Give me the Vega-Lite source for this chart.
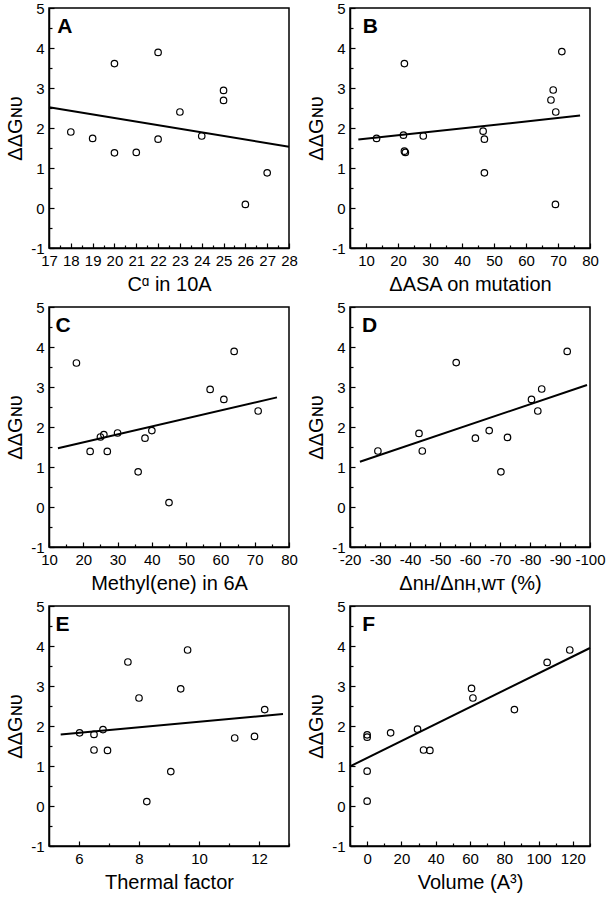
{
  "$schema": "https://vega.github.io/schema/vega-lite/v6.json",
  "background": "white",
  "padding": {"left": 4, "top": 0, "right": 3, "bottom": 5},
  "config": {
    "font": "Liberation Sans",
    "view": {"stroke": "black", "strokeWidth": 1.5},
    "axis": {
      "domainColor": "black", "domainWidth": 1.5, "tickColor": "black", "tickWidth": 1.2,
      "labelColor": "black", "titleColor": "black", "labelFontSize": 15, "titleFontSize": 20,
      "titleFontWeight": "normal", "grid": false, "labelFont": "Liberation Sans", "titleFont": "Liberation Sans",
      "labelOverlap": false, "labelFlush": false, "labelBound": false, "labelPadding": 10
    },
    "axisX": {"titlePadding": 4},
    "axisY": {"titlePadding": 5}
  },
  "datasets": {
    "pts": [
      {"panel": "A", "x": 18, "y": 1.90}, {"panel": "A", "x": 19, "y": 1.74}, {"panel": "A", "x": 20, "y": 3.61},
      {"panel": "A", "x": 20, "y": 1.38}, {"panel": "A", "x": 21, "y": 1.39}, {"panel": "A", "x": 22, "y": 3.89},
      {"panel": "A", "x": 22, "y": 1.72}, {"panel": "A", "x": 23, "y": 2.40}, {"panel": "A", "x": 24, "y": 1.80},
      {"panel": "A", "x": 25, "y": 2.94}, {"panel": "A", "x": 25, "y": 2.69}, {"panel": "A", "x": 26, "y": 0.09},
      {"panel": "A", "x": 27, "y": 0.88},
      {"panel": "B", "x": 13.3, "y": 1.74}, {"panel": "B", "x": 22.0, "y": 3.61}, {"panel": "B", "x": 21.7, "y": 1.82},
      {"panel": "B", "x": 22.0, "y": 1.42}, {"panel": "B", "x": 22.3, "y": 1.39}, {"panel": "B", "x": 27.9, "y": 1.80},
      {"panel": "B", "x": 46.6, "y": 1.92}, {"panel": "B", "x": 47.0, "y": 1.72}, {"panel": "B", "x": 47.0, "y": 0.88},
      {"panel": "B", "x": 67.8, "y": 2.70}, {"panel": "B", "x": 68.5, "y": 2.95}, {"panel": "B", "x": 69.3, "y": 2.40},
      {"panel": "B", "x": 69.2, "y": 0.09}, {"panel": "B", "x": 71.2, "y": 3.91},
      {"panel": "C", "x": 18, "y": 3.60}, {"panel": "C", "x": 22, "y": 1.39}, {"panel": "C", "x": 25, "y": 1.75},
      {"panel": "C", "x": 26, "y": 1.81}, {"panel": "C", "x": 27, "y": 1.39}, {"panel": "C", "x": 30, "y": 1.85},
      {"panel": "C", "x": 36, "y": 0.88}, {"panel": "C", "x": 38, "y": 1.72}, {"panel": "C", "x": 40, "y": 1.91},
      {"panel": "C", "x": 45, "y": 0.11}, {"panel": "C", "x": 57, "y": 2.94}, {"panel": "C", "x": 61, "y": 2.69},
      {"panel": "C", "x": 64, "y": 3.89}, {"panel": "C", "x": 71, "y": 2.40},
      {"panel": "D", "x": -29.3, "y": 1.40}, {"panel": "D", "x": -43.0, "y": 1.84}, {"panel": "D", "x": -44.1, "y": 1.40},
      {"panel": "D", "x": -55.4, "y": 3.61}, {"panel": "D", "x": -61.8, "y": 1.72}, {"panel": "D", "x": -66.4, "y": 1.91},
      {"panel": "D", "x": -72.5, "y": 1.74}, {"panel": "D", "x": -70.3, "y": 0.88}, {"panel": "D", "x": -80.5, "y": 2.69},
      {"panel": "D", "x": -82.6, "y": 2.40}, {"panel": "D", "x": -83.9, "y": 2.95}, {"panel": "D", "x": -92.4, "y": 3.89},
      {"panel": "E", "x": 6.02, "y": 1.83}, {"panel": "E", "x": 6.5, "y": 1.79}, {"panel": "E", "x": 6.8, "y": 1.91},
      {"panel": "E", "x": 6.5, "y": 1.40}, {"panel": "E", "x": 6.95, "y": 1.39}, {"panel": "E", "x": 7.63, "y": 3.60},
      {"panel": "E", "x": 8.0, "y": 2.70}, {"panel": "E", "x": 8.26, "y": 0.11}, {"panel": "E", "x": 9.06, "y": 0.86},
      {"panel": "E", "x": 9.39, "y": 2.93}, {"panel": "E", "x": 9.62, "y": 3.90}, {"panel": "E", "x": 11.19, "y": 1.70},
      {"panel": "E", "x": 11.85, "y": 1.74}, {"panel": "E", "x": 12.19, "y": 2.41},
      {"panel": "F", "x": 0, "y": 1.78}, {"panel": "F", "x": 0, "y": 1.72}, {"panel": "F", "x": 0, "y": 0.87},
      {"panel": "F", "x": 0, "y": 0.12}, {"panel": "F", "x": 13.7, "y": 1.83}, {"panel": "F", "x": 29.4, "y": 1.92},
      {"panel": "F", "x": 32.9, "y": 1.40}, {"panel": "F", "x": 36.6, "y": 1.39}, {"panel": "F", "x": 60.9, "y": 2.94},
      {"panel": "F", "x": 61.7, "y": 2.70}, {"panel": "F", "x": 85.9, "y": 2.41}, {"panel": "F", "x": 105, "y": 3.59},
      {"panel": "F", "x": 118.2, "y": 3.90}
    ],
    "fits": [
      {"panel": "A", "x": 17, "y": 2.52}, {"panel": "A", "x": 28, "y": 1.53},
      {"panel": "B", "x": 7.6, "y": 1.71}, {"panel": "B", "x": 76.9, "y": 2.31},
      {"panel": "C", "x": 12.6, "y": 1.47}, {"panel": "C", "x": 76.5, "y": 2.74},
      {"panel": "D", "x": -23.3, "y": 1.13}, {"panel": "D", "x": -99.0, "y": 3.05},
      {"panel": "E", "x": 5.39, "y": 1.79}, {"panel": "E", "x": 12.8, "y": 2.30},
      {"panel": "F", "x": -10, "y": 0.99}, {"panel": "F", "x": 130, "y": 3.95}
    ],
    "letters": [
      {"panel": "A", "x": 17.38, "y": 4.37}, {"panel": "B", "x": 9.0, "y": 4.37},
      {"panel": "C", "x": 11.9, "y": 4.37}, {"panel": "D", "x": -24.0, "y": 4.37},
      {"panel": "E", "x": 5.22, "y": 4.37}, {"panel": "F", "x": -2.9, "y": 4.37}
    ]
  },
  "columns": 2,
  "spacing": {"row": 4, "column": 6},
  "concat": [
    {
      "width": 240, "height": 240,
      "encoding": {
        "x": {"field": "x", "type": "quantitative", "scale": {"domain": [17, 28], "nice": false, "zero": false},
          "axis": {"title": "Cᵅ in 10A", "values": [17,17.5,18,18.5,19,19.5,20,20.5,21,21.5,22,22.5,23,23.5,24,24.5,25,25.5,26,26.5,27,27.5,28],
            "labelExpr": "datum.value % 1 == 0 ? '' + datum.value : ''",
            "tickSize": {"condition": {"test": "datum.value % 1 != 0", "value": -3}, "value": -5}}},
        "y": {"field": "y", "type": "quantitative", "scale": {"domain": [-1, 5], "nice": false, "zero": false},
          "axis": {"title": "ΔΔGɴᴜ", "values": [-1,-0.5,0,0.5,1,1.5,2,2.5,3,3.5,4,4.5,5],
            "labelExpr": "datum.value % 1 == 0 ? '' + datum.value : ''",
            "tickSize": {"condition": {"test": "datum.value % 1 != 0", "value": -3}, "value": -5}}}
      },
      "layer": [
        {"data": {"name": "fits"}, "transform": [{"filter": "datum.panel == 'A'"}], "mark": {"type": "line", "color": "black", "strokeWidth": 2}},
        {"data": {"name": "pts"}, "transform": [{"filter": "datum.panel == 'A'"}], "mark": {"type": "point", "shape": "circle", "filled": false, "color": "black", "size": 42, "strokeWidth": 1.2, "opacity": 1}},
        {"data": {"name": "letters"}, "transform": [{"filter": "datum.panel == 'A'"}], "mark": {"type": "text", "fontSize": 21, "fontWeight": "bold", "align": "left", "baseline": "alphabetic", "color": "black"},
          "encoding": {"text": {"field": "panel"}}}
      ]
    },
    {
      "width": 240, "height": 240,
      "encoding": {
        "x": {"field": "x", "type": "quantitative", "scale": {"domain": [5, 80], "nice": false, "zero": false},
          "axis": {"title": "ΔASA on mutation", "values": [5,10,15,20,25,30,35,40,45,50,55,60,65,70,75,80],
            "labelExpr": "datum.value % 10 == 0 ? '' + datum.value : ''",
            "tickSize": {"condition": {"test": "datum.value % 10 != 0", "value": -3}, "value": -5}}},
        "y": {"field": "y", "type": "quantitative", "scale": {"domain": [-1, 5], "nice": false, "zero": false},
          "axis": {"title": "ΔΔGɴᴜ", "values": [-1,-0.5,0,0.5,1,1.5,2,2.5,3,3.5,4,4.5,5],
            "labelExpr": "datum.value % 1 == 0 ? '' + datum.value : ''",
            "tickSize": {"condition": {"test": "datum.value % 1 != 0", "value": -3}, "value": -5}}}
      },
      "layer": [
        {"data": {"name": "fits"}, "transform": [{"filter": "datum.panel == 'B'"}], "mark": {"type": "line", "color": "black", "strokeWidth": 2}},
        {"data": {"name": "pts"}, "transform": [{"filter": "datum.panel == 'B'"}], "mark": {"type": "point", "shape": "circle", "filled": false, "color": "black", "size": 42, "strokeWidth": 1.2, "opacity": 1}},
        {"data": {"name": "letters"}, "transform": [{"filter": "datum.panel == 'B'"}], "mark": {"type": "text", "fontSize": 21, "fontWeight": "bold", "align": "left", "baseline": "alphabetic", "color": "black"},
          "encoding": {"text": {"field": "panel"}}}
      ]
    },
    {
      "width": 240, "height": 240,
      "encoding": {
        "x": {"field": "x", "type": "quantitative", "scale": {"domain": [10, 80], "nice": false, "zero": false},
          "axis": {"title": "Methyl(ene) in 6A", "values": [10,15,20,25,30,35,40,45,50,55,60,65,70,75,80],
            "labelExpr": "datum.value % 10 == 0 ? '' + datum.value : ''",
            "tickSize": {"condition": {"test": "datum.value % 10 != 0", "value": -3}, "value": -5}}},
        "y": {"field": "y", "type": "quantitative", "scale": {"domain": [-1, 5], "nice": false, "zero": false},
          "axis": {"title": "ΔΔGɴᴜ", "values": [-1,-0.5,0,0.5,1,1.5,2,2.5,3,3.5,4,4.5,5],
            "labelExpr": "datum.value % 1 == 0 ? '' + datum.value : ''",
            "tickSize": {"condition": {"test": "datum.value % 1 != 0", "value": -3}, "value": -5}}}
      },
      "layer": [
        {"data": {"name": "fits"}, "transform": [{"filter": "datum.panel == 'C'"}], "mark": {"type": "line", "color": "black", "strokeWidth": 2}},
        {"data": {"name": "pts"}, "transform": [{"filter": "datum.panel == 'C'"}], "mark": {"type": "point", "shape": "circle", "filled": false, "color": "black", "size": 42, "strokeWidth": 1.2, "opacity": 1}},
        {"data": {"name": "letters"}, "transform": [{"filter": "datum.panel == 'C'"}], "mark": {"type": "text", "fontSize": 21, "fontWeight": "bold", "align": "left", "baseline": "alphabetic", "color": "black"},
          "encoding": {"text": {"field": "panel"}}}
      ]
    },
    {
      "width": 240, "height": 240,
      "encoding": {
        "x": {"field": "x", "type": "quantitative", "scale": {"domain": [-100, -20], "reverse": true, "nice": false, "zero": false},
          "axis": {"title": "Δnʜ/Δnʜ,ᴡᴛ (%)", "values": [-20,-25,-30,-35,-40,-45,-50,-55,-60,-65,-70,-75,-80,-85,-90,-95,-100],
            "labelExpr": "datum.value % 10 == 0 ? '' + datum.value : ''",
            "tickSize": {"condition": {"test": "datum.value % 10 != 0", "value": -3}, "value": -5}}},
        "y": {"field": "y", "type": "quantitative", "scale": {"domain": [-1, 5], "nice": false, "zero": false},
          "axis": {"title": "ΔΔGɴᴜ", "values": [-1,-0.5,0,0.5,1,1.5,2,2.5,3,3.5,4,4.5,5],
            "labelExpr": "datum.value % 1 == 0 ? '' + datum.value : ''",
            "tickSize": {"condition": {"test": "datum.value % 1 != 0", "value": -3}, "value": -5}}}
      },
      "layer": [
        {"data": {"name": "fits"}, "transform": [{"filter": "datum.panel == 'D'"}], "mark": {"type": "line", "color": "black", "strokeWidth": 2}},
        {"data": {"name": "pts"}, "transform": [{"filter": "datum.panel == 'D'"}], "mark": {"type": "point", "shape": "circle", "filled": false, "color": "black", "size": 42, "strokeWidth": 1.2, "opacity": 1}},
        {"data": {"name": "letters"}, "transform": [{"filter": "datum.panel == 'D'"}], "mark": {"type": "text", "fontSize": 21, "fontWeight": "bold", "align": "left", "baseline": "alphabetic", "color": "black"},
          "encoding": {"text": {"field": "panel"}}}
      ]
    },
    {
      "width": 240, "height": 240,
      "encoding": {
        "x": {"field": "x", "type": "quantitative", "scale": {"domain": [5, 13], "nice": false, "zero": false},
          "axis": {"title": "Thermal factor", "values": [5,6,7,8,9,10,11,12,13],
            "labelExpr": "datum.value % 2 == 0 ? '' + datum.value : ''",
            "tickSize": {"condition": {"test": "datum.value % 2 != 0", "value": -3}, "value": -5}}},
        "y": {"field": "y", "type": "quantitative", "scale": {"domain": [-1, 5], "nice": false, "zero": false},
          "axis": {"title": "ΔΔGɴᴜ", "values": [-1,-0.5,0,0.5,1,1.5,2,2.5,3,3.5,4,4.5,5],
            "labelExpr": "datum.value % 1 == 0 ? '' + datum.value : ''",
            "tickSize": {"condition": {"test": "datum.value % 1 != 0", "value": -3}, "value": -5}}}
      },
      "layer": [
        {"data": {"name": "fits"}, "transform": [{"filter": "datum.panel == 'E'"}], "mark": {"type": "line", "color": "black", "strokeWidth": 2}},
        {"data": {"name": "pts"}, "transform": [{"filter": "datum.panel == 'E'"}], "mark": {"type": "point", "shape": "circle", "filled": false, "color": "black", "size": 42, "strokeWidth": 1.2, "opacity": 1}},
        {"data": {"name": "letters"}, "transform": [{"filter": "datum.panel == 'E'"}], "mark": {"type": "text", "fontSize": 21, "fontWeight": "bold", "align": "left", "baseline": "alphabetic", "color": "black"},
          "encoding": {"text": {"field": "panel"}}}
      ]
    },
    {
      "width": 240, "height": 240,
      "encoding": {
        "x": {"field": "x", "type": "quantitative", "scale": {"domain": [-10, 130], "nice": false, "zero": false},
          "axis": {"title": "Volume (A³)", "values": [-10,0,10,20,30,40,50,60,70,80,90,100,110,120,130],
            "labelExpr": "datum.value % 20 == 0 ? '' + datum.value : ''",
            "tickSize": {"condition": {"test": "datum.value % 20 != 0", "value": -3}, "value": -5}}},
        "y": {"field": "y", "type": "quantitative", "scale": {"domain": [-1, 5], "nice": false, "zero": false},
          "axis": {"title": "ΔΔGɴᴜ", "values": [-1,-0.5,0,0.5,1,1.5,2,2.5,3,3.5,4,4.5,5],
            "labelExpr": "datum.value % 1 == 0 ? '' + datum.value : ''",
            "tickSize": {"condition": {"test": "datum.value % 1 != 0", "value": -3}, "value": -5}}}
      },
      "layer": [
        {"data": {"name": "fits"}, "transform": [{"filter": "datum.panel == 'F'"}], "mark": {"type": "line", "color": "black", "strokeWidth": 2}},
        {"data": {"name": "pts"}, "transform": [{"filter": "datum.panel == 'F'"}], "mark": {"type": "point", "shape": "circle", "filled": false, "color": "black", "size": 42, "strokeWidth": 1.2, "opacity": 1}},
        {"data": {"name": "letters"}, "transform": [{"filter": "datum.panel == 'F'"}], "mark": {"type": "text", "fontSize": 21, "fontWeight": "bold", "align": "left", "baseline": "alphabetic", "color": "black"},
          "encoding": {"text": {"field": "panel"}}}
      ]
    }
  ]
}
